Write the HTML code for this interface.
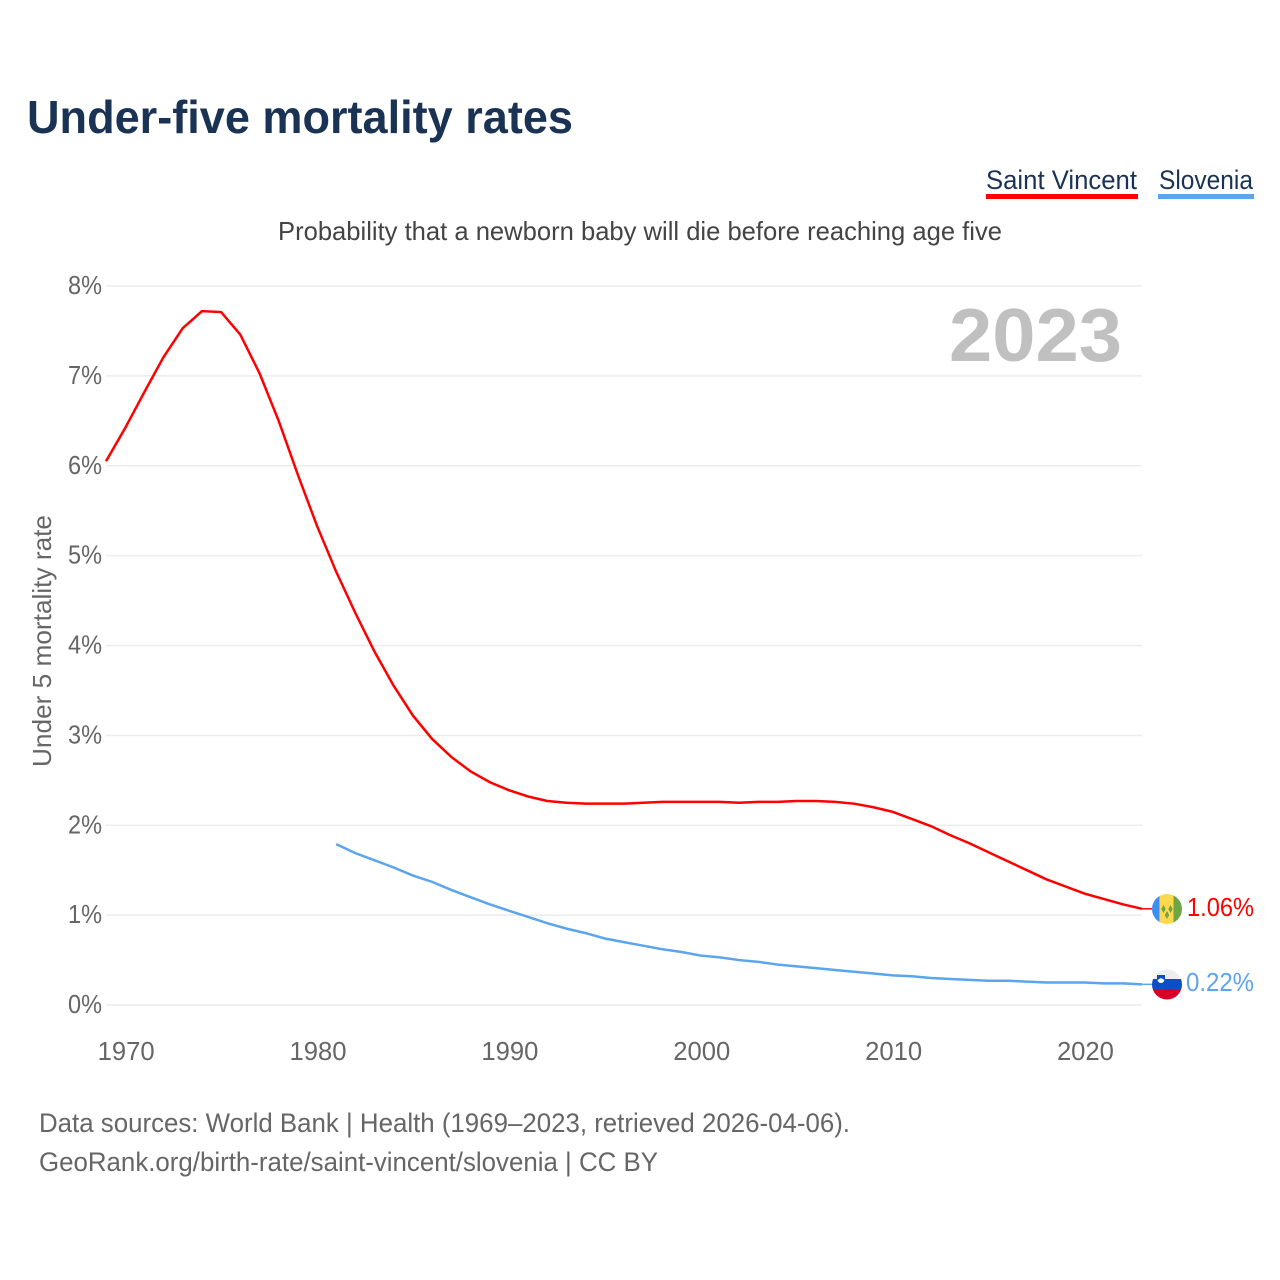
<!DOCTYPE html>
<html lang="en">
<head>
<meta charset="utf-8">
<title>Under-five mortality rates</title>
<style>
html,body{margin:0;padding:0;background:#fff;width:1280px;height:1280px;overflow:hidden}
svg{display:block;font-family:"Liberation Sans",sans-serif}
</style>
</head>
<body>
<svg id="chart" width="1280" height="1280" viewBox="0 0 1280 1280" xmlns="http://www.w3.org/2000/svg">
  <defs>
    <clipPath id="clip-sv"><circle cx="1167" cy="909" r="15"/></clipPath>
    <clipPath id="clip-si"><circle cx="1167" cy="984.500" r="15"/></clipPath>
  </defs>
  <rect width="1280" height="1280" fill="#fff"/>
  <text x="27" y="133" font-size="46" font-weight="700" fill="#1a3355" textLength="546" lengthAdjust="spacingAndGlyphs">Under-five mortality rates</text>

  <g>
    <text x="986" y="189" font-size="27" fill="#1a3355" textLength="151" lengthAdjust="spacingAndGlyphs">Saint Vincent</text>
    <rect x="986" y="194" width="152" height="5" fill="#ff0000"/>
  </g>
  <g>
    <text x="1159" y="189" font-size="27" fill="#1a3355" textLength="94" lengthAdjust="spacingAndGlyphs">Slovenia</text>
    <rect x="1158" y="194" width="96" height="5" fill="#5ba4ee"/>
  </g>

  <text x="278" y="240" font-size="26" fill="#444" textLength="724" lengthAdjust="spacingAndGlyphs">Probability that a newborn baby will die before reaching age five</text>
  <text transform="translate(51,767) rotate(-90)" font-size="26" fill="#666" textLength="252" lengthAdjust="spacingAndGlyphs">Under 5 mortality rate</text>
  <text x="949" y="361" font-size="75" font-weight="700" fill="#c0c0c0" textLength="173" lengthAdjust="spacingAndGlyphs">2023</text>

  <g id="grid"></g>
  <g id="y-ticks"></g>
  <g id="x-ticks"></g>
  <g id="series"></g>

  <g clip-path="url(#clip-sv)">
    <rect x="1152" y="894" width="7.500" height="30" fill="#3f8ff0"/>
    <rect x="1159.500" y="894" width="14" height="30" fill="#ffd84d"/>
    <rect x="1173.500" y="894" width="8.500" height="30" fill="#6da544"/>
    <path d="M1163.500 905l2.200 4-2.200 4-2.200-4zM1170.500 905l2.200 4-2.200 4-2.200-4zM1167 911l2.200 4-2.200 4-2.200-4z" fill="#6da544"/>
  </g>
  <g clip-path="url(#clip-si)">
    <rect x="1152" y="969" width="30" height="10" fill="#eeeeee"/>
    <rect x="1152" y="979" width="30" height="11" fill="#0a4fc4"/>
    <rect x="1152" y="990" width="30" height="10" fill="#d80027"/>
    <path d="M1157 975h8v5q-1 4-4 4t-4-4z" fill="#0a4fc4"/>
    <path d="M1157.500 980l3.500-2 3.500 2q-1 3-3.500 3t-3.500-3z" fill="#fff"/>
  </g>

  <text id="label-sv" x="1187" y="916" font-size="26" fill="#ff0000" textLength="67" lengthAdjust="spacingAndGlyphs">1.06%</text>
  <text id="label-si" x="1186" y="991" font-size="26" fill="#5ba4ee" textLength="68" lengthAdjust="spacingAndGlyphs">0.22%</text>

  <text x="39" y="1132" font-size="27" fill="#666" textLength="811" lengthAdjust="spacingAndGlyphs">Data sources: World Bank | Health (1969–2023, retrieved 2026-04-06).</text>
  <text x="39" y="1171" font-size="27" fill="#666" textLength="619" lengthAdjust="spacingAndGlyphs">GeoRank.org/birth-rate/saint-vincent/slovenia | CC BY</text>
</svg>
<script>
var yTicks = [0, 1, 2, 3, 4, 5, 6, 7, 8];
var xTicks = [1970, 1980, 1990, 2000, 2010, 2020];
var saintVincentStartYear = 1969;
var saintVincentValues = [6.05,6.42,6.82,7.21,7.53,7.72,7.71,7.46,7.03,6.50,5.90,5.33,4.82,4.36,3.93,3.55,3.22,2.96,2.76,2.60,2.48,2.39,2.32,2.27,2.25,2.24,2.24,2.24,2.25,2.26,2.26,2.26,2.26,2.25,2.26,2.26,2.27,2.27,2.26,2.24,2.20,2.15,2.07,1.99,1.89,1.80,1.70,1.60,1.50,1.40,1.32,1.24,1.18,1.12,1.07];
var sloveniaStartYear = 1981;
var sloveniaValues = [1.79,1.69,1.61,1.53,1.44,1.37,1.28,1.20,1.12,1.05,0.98,0.91,0.85,0.80,0.74,0.70,0.66,0.62,0.59,0.55,0.53,0.50,0.48,0.45,0.43,0.41,0.39,0.37,0.35,0.33,0.32,0.30,0.29,0.28,0.27,0.27,0.26,0.25,0.25,0.25,0.24,0.24,0.23];

var NS = 'http://www.w3.org/2000/svg';
function xScale(year) { return 106 + (year - 1969) * (1142 - 106) / (2023 - 1969); }
function yScale(v) { return 1005 - v * (1005 - 286) / 8; }

var grid = document.getElementById('grid');
var yGroup = document.getElementById('y-ticks');
yTicks.forEach(function (t) {
  var line = document.createElementNS(NS, 'line');
  
  
  line.setAttribute('x1', 106);
  line.setAttribute('x2', 1142);
  line.setAttribute('y1', yScale(t));
  line.setAttribute('y2', yScale(t));
  line.setAttribute('stroke', '#ececec');
  line.setAttribute('stroke-width', '1.500');
  grid.appendChild(line);

  var label = document.createElementNS(NS, 'text');
  
  
  label.setAttribute('x', 102);
  label.setAttribute('y', yScale(t) + 8);
  label.setAttribute('text-anchor', 'end');
  label.setAttribute('font-size', '26');
  label.setAttribute('fill', '#666');
  label.setAttribute('textLength', '34');
  label.setAttribute('lengthAdjust', 'spacingAndGlyphs');
  label.textContent = t + '%';
  yGroup.appendChild(label);
});

var xGroup = document.getElementById('x-ticks');
xTicks.forEach(function (t) {
  var label = document.createElementNS(NS, 'text');
  
  
  label.setAttribute('x', xScale(t) + 1);
  label.setAttribute('y', 1060);
  label.setAttribute('text-anchor', 'middle');
  label.setAttribute('font-size', '26');
  label.setAttribute('fill', '#666');
  label.setAttribute('textLength', '57');
  label.setAttribute('lengthAdjust', 'spacingAndGlyphs');
  label.textContent = t;
  xGroup.appendChild(label);
});

function pathFor(values, startYear) {
  return values.map(function (v, i) {
    return (i ? 'L' : 'M') + xScale(startYear + i).toFixed(2) + ' ' + yScale(v).toFixed(2);
  }).join('');
}

var seriesGroup = document.getElementById('series');

var redLine = document.createElementNS(NS, 'path');


redLine.setAttribute('d', pathFor(saintVincentValues, saintVincentStartYear));
redLine.setAttribute('fill', 'none');
redLine.setAttribute('stroke', '#ff0000');
redLine.setAttribute('stroke-width', '2.500');
seriesGroup.appendChild(redLine);

var blueLine = document.createElementNS(NS, 'path');


blueLine.setAttribute('d', pathFor(sloveniaValues, sloveniaStartYear));
blueLine.setAttribute('fill', 'none');
blueLine.setAttribute('stroke', '#5ba4ee');
blueLine.setAttribute('stroke-width', '2.500');
seriesGroup.appendChild(blueLine);

var redStub = document.createElementNS(NS, 'line');


redStub.setAttribute('x1', xScale(2023));
redStub.setAttribute('x2', 1152);
redStub.setAttribute('y1', yScale(saintVincentValues[saintVincentValues.length - 1]));
redStub.setAttribute('y2', yScale(saintVincentValues[saintVincentValues.length - 1]));
redStub.setAttribute('stroke', '#ff0000');
redStub.setAttribute('stroke-width', '1.500');
seriesGroup.appendChild(redStub);

var blueStub = document.createElementNS(NS, 'line');


blueStub.setAttribute('x1', xScale(2023));
blueStub.setAttribute('x2', 1152);
blueStub.setAttribute('y1', yScale(sloveniaValues[sloveniaValues.length - 1]));
blueStub.setAttribute('y2', yScale(sloveniaValues[sloveniaValues.length - 1]));
blueStub.setAttribute('stroke', '#5ba4ee');
blueStub.setAttribute('stroke-width', '1.500');
seriesGroup.appendChild(blueStub);
</script>
</body>
</html>
